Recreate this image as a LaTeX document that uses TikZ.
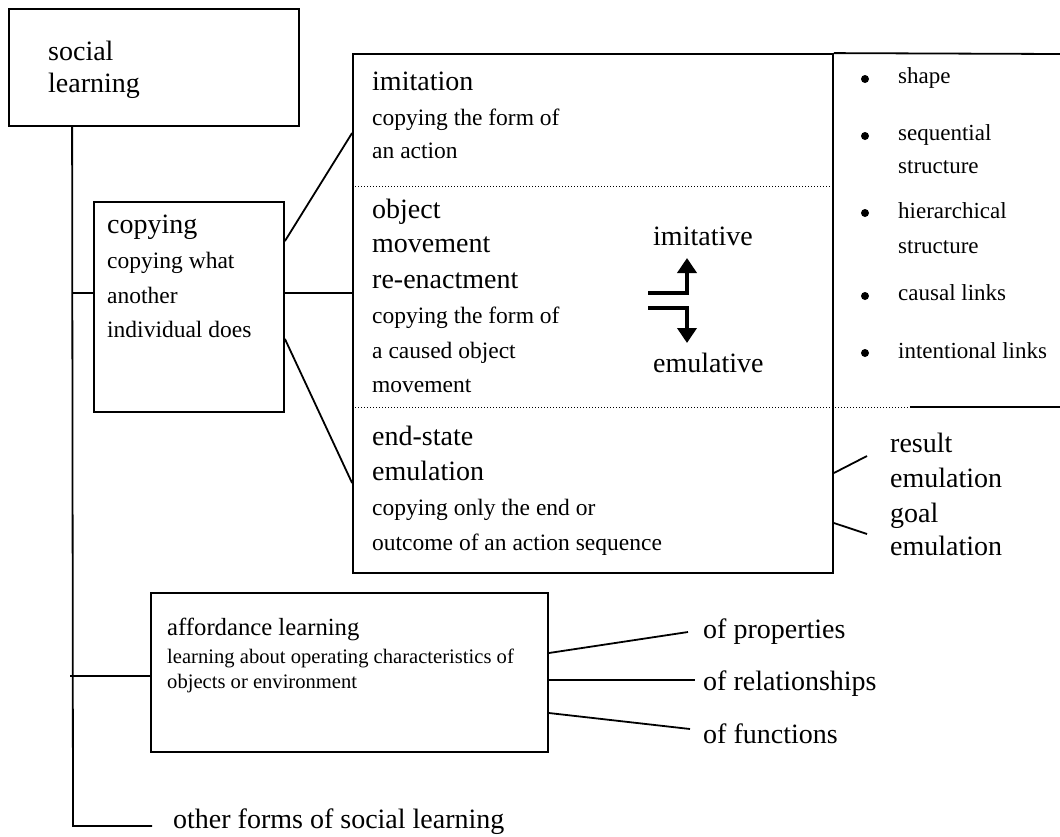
\documentclass[tikz,border=0pt]{standalone}
\usepackage{fontspec}
\setmainfont{Liberation Serif}
\usetikzlibrary{arrows.meta}

\tikzset{
  bx/.style={draw,line width=1.8pt,inner sep=0pt},
  ln/.style={line width=1.8pt},
  dotln/.style={line width=1pt,dotted},
  tx/.style={anchor=base west,inner sep=0pt},
  big/.style={tx,font=\fontsize{28}{30}\selectfont},
  small/.style={tx,font=\fontsize{23.5}{26}\selectfont},
  affbig/.style={tx,font=\fontsize{24.7}{27}\selectfont},
  affsmall/.style={tx,font=\fontsize{20.6}{23}\selectfont},
  bul/.style={tx,font=\fontsize{23}{25}\selectfont},
  bulletdot/.style={circle,fill,inner sep=0pt,minimum size=8pt},
  shiftarrow/.style={line width=4.5pt,-{Triangle[width=19pt,length=15pt]}}
}

\begin{document}
\begin{tikzpicture}[x=1pt,y=-1pt]
            \useasboundingbox (0,0) rectangle (1060,836);

            % boxes
            \node[bx,minimum width=290pt,minimum height=117pt] (social) at (154,67.5) {};
            \node[bx,minimum width=190pt,minimum height=210pt] (copying) at (189,307) {};
            \node[bx,minimum width=480pt,minimum height=519pt] (main) at (593,313.5) {};
            \node[bx,minimum width=397pt,minimum height=159pt] (afford) at (349.5,672.5) {};

            % texts
            \node[big] (sl1) at (48,60) {social};
            \node[big] (sl2) at (48,92) {learning};

            \node[big] (cp1) at (107,233) {copying};
            \node[small] (cp2) at (107,268) {copying what};
            \node[small] (cp3) at (107,303) {another};
            \node[small] (cp4) at (107,337) {individual does};

            \node[big] (im1) at (372,90) {imitation};
            \node[small] (im2) at (372,125) {copying the form of};
            \node[small] (im3) at (372,158) {an action};

            \node[big] (om1) at (372,218) {object};
            \node[big] (om2) at (372,252) {movement};
            \node[big] (om3) at (372,288) {re-enactment};
            \node[small] (om4) at (372,323) {copying the form of};
            \node[small] (om5) at (372,358) {a caused object};
            \node[small] (om6) at (372,392) {movement};

            \node[big] (es1) at (372,445) {end-state};
            \node[big] (es2) at (372,480) {emulation};
            \node[small] (es3) at (372,515) {copying only the end or};
            \node[small] (es4) at (372,550) {outcome of an action sequence};

            \node[big] (imit) at (653,245) {imitative};
            \node[big] (emul) at (653,372) {emulative};

            \node[affbig] (af1) at (167,635) {affordance learning};
            \node[affsmall] (af2) at (167,663) {learning about operating characteristics of};
            \node[affsmall] (af3) at (167,688) {objects or environment};

            \node[big] (prop) at (703,638) {of properties};
            \node[big] (rel) at (703,690) {of relationships};
            \node[big] (func) at (703,743) {of functions};

            \node[big] (res1) at (890,452) {result};
            \node[big] (res2) at (890,487) {emulation};
            \node[big] (goal1) at (890,522) {goal};
            \node[big] (goal2) at (890,555) {emulation};

            \node[big] (other) at (173,828) {other forms of social learning};

            % bullet list
            \node[bulletdot] (b1) at (865,79) {};
            \node[bul] (bt1) at (898,83) {shape};
            \node[bulletdot] (b2) at (865,136) {};
            \node[bul] (bt2) at (898,140) {sequential};
            \node[bul] (bt2b) at (898,173) {structure};
            \node[bulletdot] (b3) at (865,213) {};
            \node[bul] (bt3) at (898,218) {hierarchical};
            \node[bul] (bt3b) at (898,253) {structure};
            \node[bulletdot] (b4) at (865,296) {};
            \node[bul] (bt4) at (898,300) {causal links};
            \node[bulletdot] (b5) at (865,353) {};
            \node[bul] (bt5) at (898,358) {intentional links};

            % tree
            \coordinate (trunk) at ([xshift=64pt]social.south west);
            \coordinate (tcopy) at (73,293);
            \coordinate (taff) at (73,676);
            \coordinate (tend) at (73,826);
            \draw[ln] (trunk) -- (tend) -- ++(79,0);
            \draw[ln] (tcopy) -- (tcopy -| copying.west);
            \draw[ln] ([xshift=-3pt]taff) -- (taff -| afford.west);

            % copying to main box
            \draw[ln] (tcopy -| copying.east) -- (tcopy -| main.west);
            \draw[ln] ([yshift=-40pt]copying.north east) -- (main.west |- 0,133);
            \draw[ln] ([yshift=74pt]copying.south east) -- (main.west |- 0,483);

            % dividers and right bracket
            \draw[dotln] (main.west |- 0,186) -- (main.east |- 0,186);
            \coordinate (cut) at (910,407);
            \draw[dotln] (main.west |- cut) -- (cut);
            \draw[ln] (cut) -- (1060,407);
            \draw[ln] (main.north east) -- (1060,54);

            % emulation branches
            \draw[ln] (main.east |- 0,473) -- (867,456);
            \draw[ln] (main.east |- 0,523) -- (867,534);

            % affordance branches
            \draw[ln] (afford.east |- 0,653) -- (688,632);
            \draw[ln] (afford.east |- 0,680) -- (695,680);
            \draw[ln] (afford.east |- 0,713) -- (690,729);

            % shift arrows
            \draw[shiftarrow] (648,293) -- (687,293) -- (687,258);
            \draw[shiftarrow] (648,308) -- (687,308) -- (687,343);
\end{tikzpicture}
\end{document}
